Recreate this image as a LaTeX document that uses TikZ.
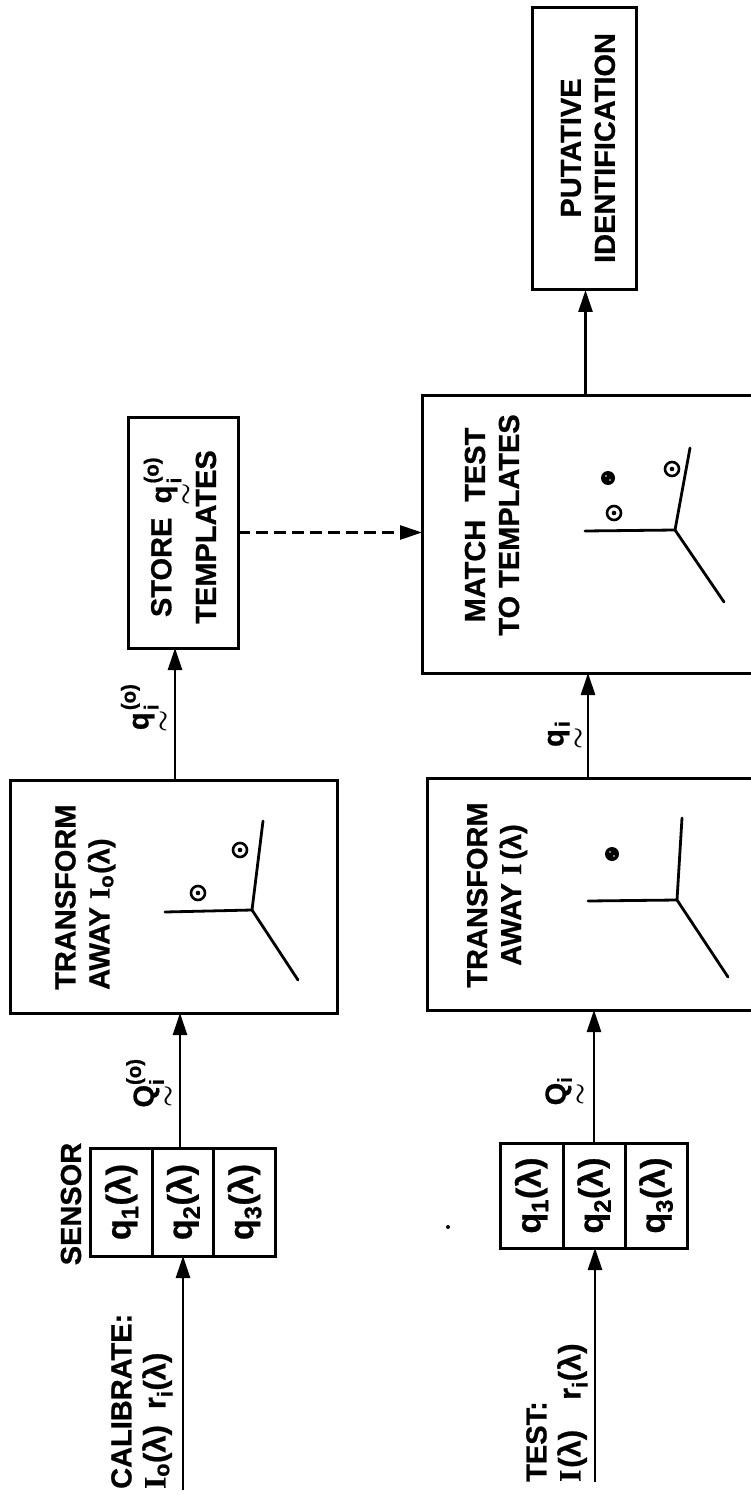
\documentclass[tikz,border=0pt]{standalone}
\usepackage{amsmath}
\usepackage{fontspec}
\setmainfont{Liberation Sans}[BoldFeatures={FakeBold=0.8}]
\newfontfamily\serifI{Liberation Serif}[BoldFeatures={FakeBold=0.8}]
\usetikzlibrary{arrows.meta}
\newcommand{\sI}{{\serifI\bfseries I}}
\newcommand{\tld}{\textstyle\boldsymbol{\sim}}
\newcommand{\vQ}[2]{${\smash[b]{\underset{\tld}{\text{#1}}}}_{\text{i}}#2\vphantom{\underset{\tld}{\text{#1}}}$}
\newcommand{\bigtxt}{\fontsize{31}{34}\selectfont}
\begin{document}
\begin{tikzpicture}[x=1pt,y=-1pt,
  box/.style={draw,line width=3pt,inner sep=0pt,outer sep=0pt},
  txt/.style={rotate=90,inner sep=0pt,font=\fontsize{29}{34}\selectfont\bfseries,align=center},
  cell/.style={rotate=90,inner sep=0pt,font=\fontsize{34}{35}\selectfont\bfseries},
  lab/.style={rotate=90,inner sep=0pt,font=\fontsize{29}{32}\selectfont\bfseries,anchor=south},
  arr/.style={line width=2.7pt,-{Triangle[length=22pt,width=14pt]}},
  darr/.style={arr,dash pattern=on 12pt off 6pt},
  fig/.style={line width=2.8pt,line cap=round,line join=round},
  ring/.style={line width=2.6pt}]
\useasboundingbox (0,0) rectangle (751,1495);

% ---- calibrate row ----
\node[box,minimum width=61.5pt,minimum height=108pt] (S1a) at (121.5,1202) {};
\node[box,minimum width=61.5pt,minimum height=108pt] (S1b) at (183,1202) {};
\node[box,minimum width=61.5pt,minimum height=108pt] (S1c) at (244.5,1202) {};
\node[cell] (q1a) at (S1a) {q\textsubscript{1}(λ)};
\node[cell] (q1b) at (S1b) {q\textsubscript{2}(λ)};
\node[cell] (q1c) at (S1c) {q\textsubscript{3}(λ)};
\node[txt] (sens) at (71,1204) {SENSOR};
\node[txt,align=left,anchor=north west] (cal) at (111,1489) {CALIBRATE:\\{\bigtxt\sI\textsubscript{o}(λ)\hspace{16pt}r\textsubscript{i}(λ)}};

\node[box,minimum width=327pt,minimum height=233pt] (T1) at (173.5,896.5) {};
\node[txt,align=left,anchor=north west] (T1t) at (55,990) {TRANSFORM\\AWAY \sI\textsubscript{o}\kern1pt(λ)};
\draw[fig] (165,912) -- (252,910) -- (263,821);
\draw[fig] (252,910) -- (298,980);
\draw[ring] (198,893) circle [radius=7pt]; \fill (198,893) circle [radius=2.3pt];
\draw[ring] (240,850) circle [radius=7pt]; \fill (240,850) circle [radius=2.3pt];

\node[box,minimum width=110pt,minimum height=231pt] (St) at (183,532.5) {};
\node[txt] (Stt) at (180,537) {STORE\hspace{12pt}\vQ{q}{^{\text{(o)}}}\\[0pt]TEMPLATES};

% ---- test row ----
\node[box,minimum width=63pt,minimum height=105pt] (S2a) at (531.5,1195.5) {};
\node[box,minimum width=62pt,minimum height=105pt] (S2b) at (594,1195.5) {};
\node[box,minimum width=62pt,minimum height=105pt] (S2c) at (656,1195.5) {};
\node[cell] (q2a) at (S2a) {q\textsubscript{1}(λ)};
\node[cell] (q2b) at (S2b) {q\textsubscript{2}(λ)};
\node[cell] (q2c) at (S2c) {q\textsubscript{3}(λ)};
\node[txt,align=left,anchor=north west] (tst) at (526,1482) {TEST:\\{\bigtxt\sI\kern2pt(λ)\hspace{30pt}r\textsubscript{i}(λ)}};

\node[box,minimum width=328pt,minimum height=232pt] (T2) at (591,894) {};
\node[txt] (T2t) at (497,895) {TRANSFORM\\AWAY \sI\kern4pt(λ)};
\draw[fig] (588,901) -- (677,900) -- (682,818);
\draw[fig] (677,900) -- (728,977);
\fill (612,854) circle [radius=7pt];
\fill[white] (610,852) circle [radius=0.9pt] (614,856) circle [radius=0.9pt];

\node[box,minimum width=333pt,minimum height=278pt] (M) at (588.5,534) {};
\node[txt] (Mt) at (492,525) {MATCH\hspace{18pt}TEST\\TO TEMPLATES};
\draw[fig] (585,531) -- (675,530) -- (690,448);
\draw[fig] (675,530) -- (724,602);
\draw[ring] (672,469) circle [radius=7pt]; \fill (672,469) circle [radius=2.3pt];
\draw[ring] (614,513) circle [radius=7pt]; \fill (614,513) circle [radius=2.3pt];
\fill (608,478) circle [radius=7pt];
\fill[white] (606,476) circle [radius=0.9pt] (610,480) circle [radius=0.9pt];

\node[box,minimum width=104pt,minimum height=282pt] (P) at (584,149) {};
\node[txt] (Pt) at (588,148) {PUTATIVE\\IDENTIFICATION};

% ---- connectors ----
\coordinate (cin) at (183,1490);
\draw[arr] (cin) -- (S1b.south);
\coordinate (s1o) at ([xshift=-3pt]S1b.north);
\draw[arr] (s1o) -- (s1o |- T1.south);
\coordinate (t1o) at ([xshift=1.5pt]T1.north);
\draw[arr] (t1o) -- (t1o |- St.south);
\draw[darr] (St.east) -- (St.east -| M.west);
\coordinate (tin) at (595,1482);
\draw[arr] (tin) -- (tin |- S2b.south);
\draw[arr] (S2b.north) -- (S2b.north |- T2.south);
\coordinate (t2o) at ([xshift=-3pt]T2.north);
\draw[arr] (t2o) -- (t2o |- M.south);
\coordinate (mo) at ([xshift=-3pt]M.north);
\draw[arr] (mo) -- (mo |- P.south);

% ---- line labels ----
\node[lab] (lQo) at (177,1083) {\vQ{Q}{^{\text{(o)}}}};
\node[lab] (lqo) at (172,708) {\vQ{q}{^{\text{(o)}}}};
\node[lab] (lQ) at (589,1091) {\vQ{Q}{}};
\node[lab] (lq) at (587,735) {\vQ{q}{}};

\fill (448,1227) circle [radius=2pt];
\end{tikzpicture}
\end{document}
